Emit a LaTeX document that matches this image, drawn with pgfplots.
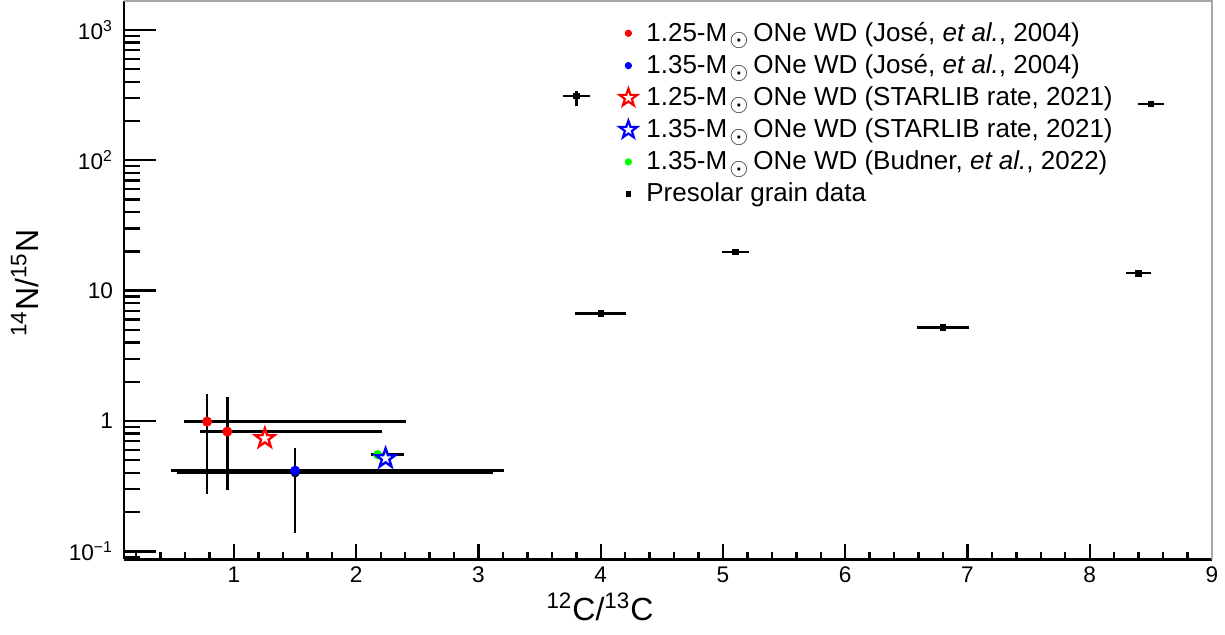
\documentclass[border=0pt]{standalone}
\usepackage{pgfplots}
\pgfplotsset{compat=1.18}
\usepackage{fontspec}
\setmainfont{Liberation Sans}
\newcommand{\Msun}{M\hspace{1.2pt}\raisebox{-0.4ex}{$\odot$}\hspace{2.5pt}}
\pgfdeclareplotmark{ostar}{%
  \pgfpathmoveto{\pgfpointpolar{90}{\pgfplotmarksize}}%
  \pgfpathlineto{\pgfpointpolar{126}{0.4\pgfplotmarksize}}%
  \pgfpathlineto{\pgfpointpolar{162}{\pgfplotmarksize}}%
  \pgfpathlineto{\pgfpointpolar{198}{0.4\pgfplotmarksize}}%
  \pgfpathlineto{\pgfpointpolar{234}{\pgfplotmarksize}}%
  \pgfpathlineto{\pgfpointpolar{270}{0.4\pgfplotmarksize}}%
  \pgfpathlineto{\pgfpointpolar{306}{\pgfplotmarksize}}%
  \pgfpathlineto{\pgfpointpolar{342}{0.4\pgfplotmarksize}}%
  \pgfpathlineto{\pgfpointpolar{18}{\pgfplotmarksize}}%
  \pgfpathlineto{\pgfpointpolar{54}{0.4\pgfplotmarksize}}%
  \pgfpathclose
  \pgfusepathqfillstroke
}
\pgfplotsset{ebar/.style={error bars/.cd, x dir=both, x explicit, y dir=both, y explicit,
  error bar style={draw=black, line width=1.25pt, solid}, error mark=none}}
\begin{document}
\begin{tikzpicture}
\path[use as bounding box] (-62pt,-37.75pt) rectangle (550.5pt,279.75pt);
\begin{axis}[
  at={(0pt,0pt)}, anchor=south west,
  scale only axis, width=544pt, height=279.25pt,
  xmin=0.1, xmax=9, ymode=log, ymin=0.0867, ymax=1667,
  axis lines*=left, clip=false,
  axis line style={line width=1.4pt, black},
  tick align=inside,
  xtick={1,2,3,4,5,6,7,8,9},
  xticklabels={1,2,3,4,5,6,7,8,9},
  minor xtick={0.2,0.4,0.6,0.8,1.2,1.4,1.6,1.8,2.2,2.4,2.6,2.8,3.2,3.4,3.6,3.8,4.2,4.4,4.6,4.8,5.2,5.4,5.6,5.8,6.2,6.4,6.6,6.8,7.2,7.4,7.6,7.8,8.2,8.4,8.6,8.8},
  ytick={0.1,1,10,100,1000},
  yticklabels={10\textsuperscript{−1},1,10,10\textsuperscript{2},10\textsuperscript{3}},
  minor ytick={0.09,0.2,0.3,0.4,0.5,0.6,0.7,0.8,0.9,2,3,4,5,6,7,8,9,20,30,40,50,60,70,80,90,200,300,400,500,600,700,800,900},
  x tick style={line width=1.2pt, black, /pgfplots/major tick length=8pt, /pgfplots/minor tick length=4pt},
  y tick style={line width=1.2pt, black, /pgfplots/major tick length=16pt, /pgfplots/minor tick length=8pt},
  tick label style={font=\fontsize{11.3}{13}\selectfont},
  yticklabel style={xshift=-2pt},
  xlabel={\textsuperscript{12}C/\textsuperscript{13}C},
  ylabel={\textsuperscript{14}N/\textsuperscript{15}N},
  xlabel style={at={(axis description cs:0.4375,0)}, anchor=center, yshift=-23.75pt, font=\fontsize{16}{18}\selectfont},
  ylabel style={at={(axis description cs:-0.091,0.495)}, anchor=center, font=\fontsize{16}{18}\selectfont},
  legend image code/.code={\draw[#1] plot coordinates {(0pt,0pt)}; \path[draw=none,fill=none] (-6pt,-6pt) rectangle (9pt,6pt);},
  legend cell align=left,
  legend style={draw=none, fill=none, at={(axis description cs:0.4522,0.967)}, anchor=north west,
    font=\fontsize{13}{15}\selectfont, inner sep=0pt, row sep=2.7pt, nodes={inner ysep=1.2pt, inner xsep=0pt}},
]
% presolar grain data
\addplot[only marks, mark=square*, mark size=1.4pt, black, forget plot, ebar] coordinates {
  (3.80,311) += (0.11,30) -= (0.11,49)
  (4.00,6.7) +- (0.21,0)
  (5.10,19.8) +- (0.11,0)
  (6.80,5.2) +- (0.21,0)
  (8.40,13.6) +- (0.105,0)
  (8.50,271) +- (0.105,0)
};
% extra horizontal bar
\addplot[only marks, mark=none, forget plot, ebar] coordinates {
  (1.5,0.40) += (1.615,0) -= (0.97,0)
};
% blue Jose
\addplot[only marks, mark=*, mark size=2.3pt, blue, forget plot, ebar] coordinates {
  (1.5,0.416) += (1.71,0.201) -= (1.012,0.277)
};
% red Jose
\addplot[only marks, mark=*, mark size=2.3pt, red, forget plot, ebar] coordinates {
  (0.78,0.99) += (1.63,0.62) -= (0.19,0.715)
  (0.945,0.83) += (1.265,0.69) -= (0.225,0.534)
};
% green Budner
\addplot[only marks, mark=*, mark size=2.1pt, green, forget plot, ebar] coordinates {
  (2.175,0.552) += (0.214,0) -= (0.052,0)
};
% stars
\addplot[only marks, mark=ostar, mark size=5pt, red, line width=1.2pt, mark options={fill=white}, forget plot] coordinates {(1.252,0.736)};
\addplot[only marks, mark=ostar, mark size=5pt, blue, line width=1.2pt, mark options={fill=white}, forget plot] coordinates {(2.24,0.517)};
% frame
\draw[gray!70, line width=0.8pt] (rel axis cs:0,1) -- (rel axis cs:1,1) -- (rel axis cs:1,0);
% legend
\addlegendimage{mark=*, red, mark size=1.6pt}
\addlegendentry{1.25-\Msun ONe WD (José, \textit{et al.}, 2004)}
\addlegendimage{mark=*, blue, mark size=1.6pt}
\addlegendentry{1.35-\Msun ONe WD (José, \textit{et al.}, 2004)}
\addlegendimage{mark=ostar, red, mark size=4.6pt, line width=1.1pt, mark options={fill=white}}
\addlegendentry{1.25-\Msun ONe WD (STARLIB rate, 2021)}
\addlegendimage{mark=ostar, blue, mark size=4.6pt, line width=1.1pt, mark options={fill=white}}
\addlegendentry{1.35-\Msun ONe WD (STARLIB rate, 2021)}
\addlegendimage{mark=*, green, mark size=1.6pt}
\addlegendentry{1.35-\Msun ONe WD (Budner, \textit{et al.}, 2022)}
\addlegendimage{mark=square*, black, mark size=1.2pt}
\addlegendentry{Presolar grain data}
\end{axis}
\end{tikzpicture}
\end{document}
